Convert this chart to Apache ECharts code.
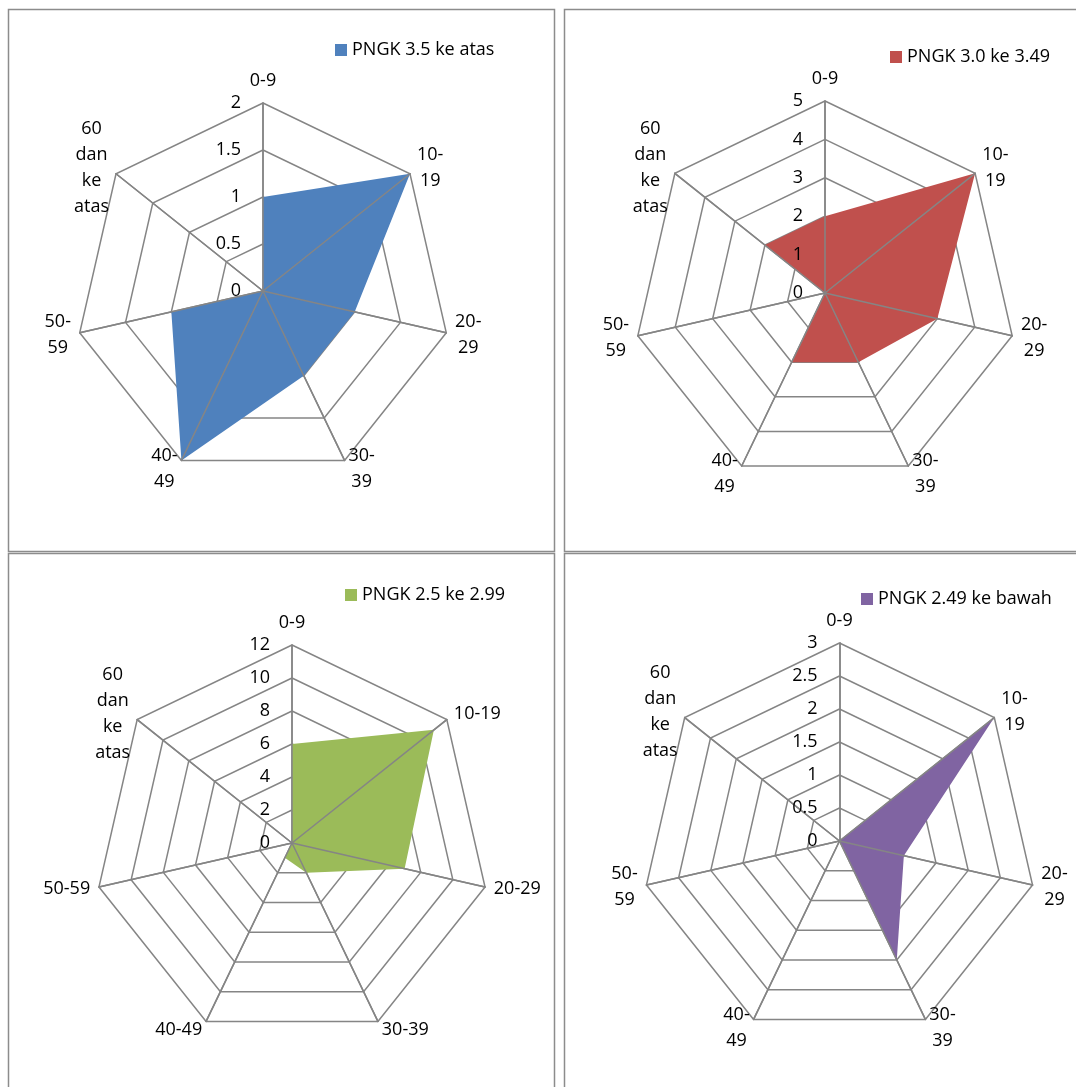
<!DOCTYPE html>
<html>
<head>
<meta charset="utf-8">
<script src="https://cdn.jsdelivr.net/npm/echarts@6/dist/echarts.min.js"></script>
<style>
html,body{margin:0;padding:0;background:#fff;}
#c{width:1076px;height:1087px;}
</style>
</head>
<body>
<div id="c"></div>
<script>
// ---- data ----
const categories = ['0-9', '10-19', '20-29', '30-39', '40-49', '50-59', '60 dan ke atas'];
const seriesNames = ['PNGK 3.5 ke atas', 'PNGK 3.0 ke 3.49', 'PNGK 2.5 ke 2.99', 'PNGK 2.49 ke bawah'];
const valuesA = [1, 2, 1, 1, 2, 1, 0];
const valuesB = [2, 5, 3, 2, 2, 0, 2];
const valuesC = [6, 11, 7, 2, 1, 0, 0];
const valuesD = [0, 3, 1, 2, 0, 0, 0];
const axisMax = [2, 5, 12, 3];
const axisSplits = [4, 5, 6, 6];

// ---- layout / style ----
const FONT = 'Open Sans';
const FS = 18;
const GRID = '#858585';
const colors = ['#4F81BD', '#C0504D', '#9BBB59', '#8064A2'];
const allValues = [valuesA, valuesB, valuesC, valuesD];
const panels = [
  {cx: 263, cy: 291, r: 188, lx: 335, ly: 40, narrow: true},
  {cx: 825, cy: 293, r: 192, lx: 890, ly: 47, narrow: true},
  {cx: 292, cy: 843, r: 198, lx: 345, ly: 585, narrow: false},
  {cx: 839.5, cy: 841, r: 198, lx: 861, ly: 589, narrow: true}
];

// ECharts lays indicators out counter-clockwise; the reference runs clockwise,
// so the first category stays on top and the rest are taken in reverse order.
const order = [0].concat(categories.map((_, i) => i).slice(1).reverse());
const reorder = arr => order.map(i => arr[i]);

function wrapName(name, narrow) {
  let s = name.replace(/ /g, '\n');
  if (narrow) s = s.replace(/^(\d\d+-)(\d+)$/, '$1\n$2');
  return s.split('\n').map(l => '{c|' + l + '}').join('\n');
}

const radars = [], series = [], legends = [];
panels.forEach((p, k) => {
  const max = axisMax[k];
  const cats = reorder(categories);
  radars.push({
    center: [p.cx, p.cy], radius: p.r, startAngle: 90, shape: 'polygon',
    splitNumber: axisSplits[k], z: 0,
    indicator: cats.map(c => ({name: c, min: 0, max: max})),
    nameGap: 9,
    axisName: {
      show: true, color: '#000', fontFamily: FONT, fontSize: FS, lineHeight: 26,
      formatter: (n) => wrapName(n, p.narrow),
      rich: {c: {align: 'center', color: '#000', fontFamily: FONT, fontSize: FS, lineHeight: 26}}
    },
    axisLine: {show: true, lineStyle: {color: GRID, width: 1.5}},
    splitLine: {show: true, lineStyle: {color: GRID, width: 1.5}},
    splitArea: {show: false},
    axisTick: {show: false},
    axisLabel: {show: false}
  });
  radars.push({
    center: [p.cx, p.cy], radius: p.r, startAngle: 90, shape: 'polygon',
    splitNumber: axisSplits[k], z: 5,
    indicator: cats.map((c, i) => ({name: c, min: 0, max: max, axisLabel: {show: i === 0}})),
    axisName: {show: false},
    axisLine: {show: true, lineStyle: {color: GRID, width: 1.5}},
    splitLine: {show: false},
    splitArea: {show: false},
    axisTick: {show: false},
    axisLabel: {show: false, color: '#000', fontFamily: FONT, fontSize: FS, margin: 22}
  });
  series.push({
    type: 'radar', radarIndex: k * 2, name: seriesNames[k], z: 2,
    symbol: 'none',
    lineStyle: {width: 0, color: colors[k]},
    itemStyle: {color: colors[k]},
    areaStyle: {color: colors[k], opacity: 1},
    data: [{name: seriesNames[k], value: reorder(allValues[k])}]
  });
  legends.push({
    data: [seriesNames[k]], left: p.lx, top: p.ly, padding: 0,
    icon: 'rect', itemWidth: 12, itemHeight: 12, itemGap: 5,
    textStyle: {color: '#000', fontFamily: FONT, fontSize: FS, lineHeight: 20},
    selectedMode: false
  });
});

const borderStyle = {stroke: '#8c8c8c', lineWidth: 1.5, fill: 'none'};
const graphics = [
  {type: 'rect', shape: {x: 8.5, y: 9.5, width: 546, height: 542}, style: borderStyle, silent: true, z: 10},
  {type: 'rect', shape: {x: 564.5, y: 9.5, width: 600, height: 542}, style: borderStyle, silent: true, z: 10},
  {type: 'rect', shape: {x: 8.5, y: 553.5, width: 546, height: 600}, style: borderStyle, silent: true, z: 10},
  {type: 'rect', shape: {x: 564.5, y: 553.5, width: 600, height: 600}, style: borderStyle, silent: true, z: 10}
];

const chart = echarts.init(document.getElementById('c'), null, {renderer: 'canvas'});
chart.setOption({
  animation: false,
  backgroundColor: '#fff',
  textStyle: {fontFamily: FONT},
  legend: legends,
  radar: radars,
  series: series,
  graphic: graphics
});
</script>
</body>
</html>
